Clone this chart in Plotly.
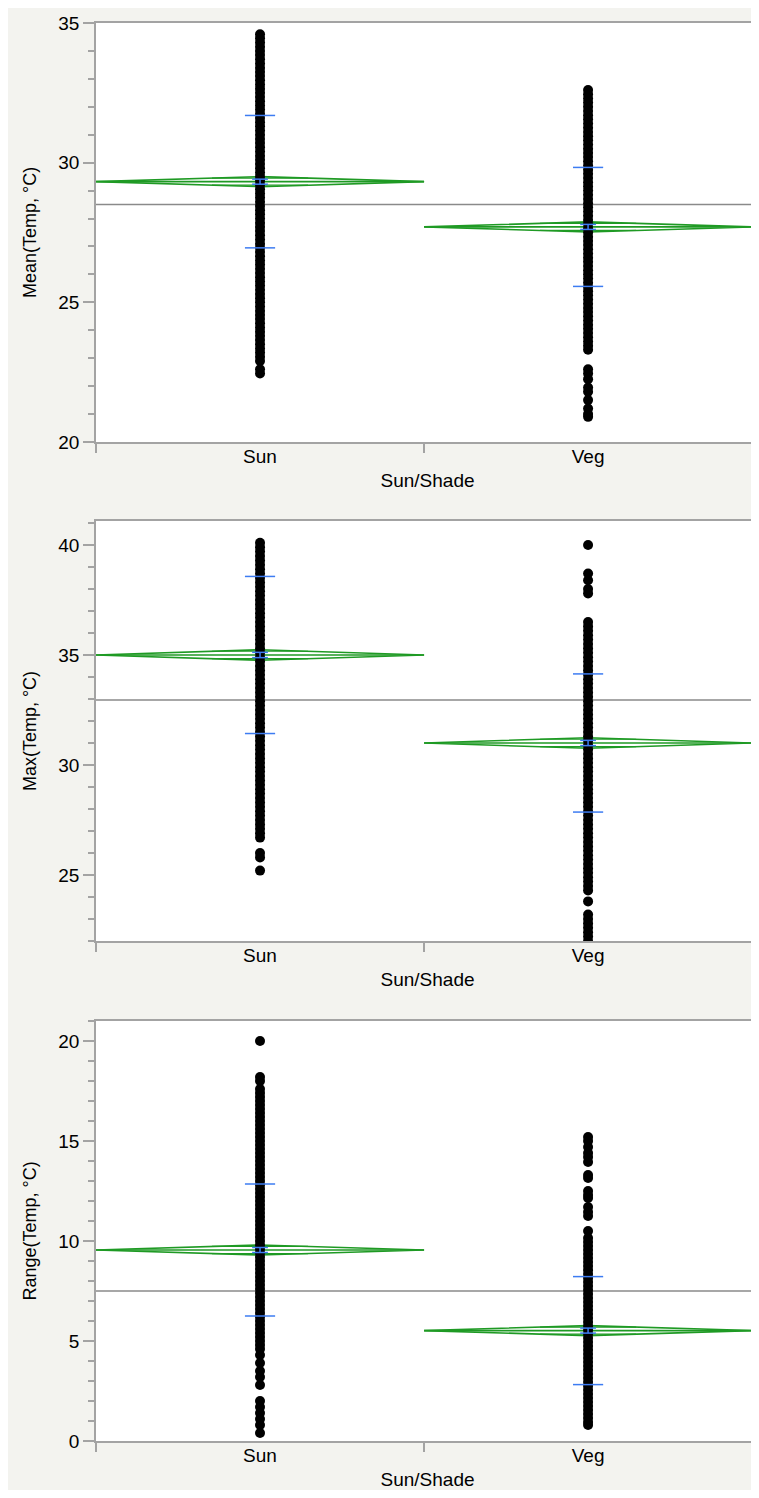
import plotly.graph_objects as go
import math

categories = ["Sun", "Veg"]
cat_pos = [0.5, 1.5]

# ---- Panel 1: Mean(Temp) ----
sun_mean_pts = [34.6, 34.45, 34.3, 34.15, 34.0, 33.85, 33.7, 33.55, 33.4, 33.25, 33.1, 32.95, 32.8,
                32.65, 32.5, 32.35, 32.2, 32.05, 31.9, 31.75, 31.6, 31.45, 31.3, 31.15, 31.0, 30.85,
                30.7, 30.55, 30.4, 30.25, 30.1, 29.95, 29.8, 29.65, 29.5, 29.35, 29.2, 29.05, 28.9,
                28.75, 28.6, 28.45, 28.3, 28.15, 28.0, 27.85, 27.7, 27.55, 27.4, 27.25, 27.1, 26.95,
                26.8, 26.65, 26.5, 26.35, 26.2, 26.05, 25.9, 25.75, 25.6, 25.45, 25.3, 25.15, 25.0,
                24.85, 24.7, 24.55, 24.4, 24.25, 24.1, 23.95, 23.8, 23.65, 23.5, 23.35, 23.2, 23.05,
                22.9, 22.6, 22.45]
veg_mean_pts = [32.6, 32.45, 32.3, 32.15, 32.0, 31.85, 31.7, 31.55, 31.4, 31.25, 31.1, 30.95, 30.8,
                30.65, 30.5, 30.35, 30.2, 30.05, 29.9, 29.75, 29.6, 29.45, 29.3, 29.15, 29.0, 28.85,
                28.7, 28.55, 28.4, 28.25, 28.1, 27.95, 27.8, 27.65, 27.5, 27.35, 27.2, 27.05, 26.9,
                26.75, 26.6, 26.45, 26.3, 26.15, 26.0, 25.85, 25.7, 25.55, 25.4, 25.25, 25.1, 24.95,
                24.8, 24.65, 24.5, 24.35, 24.2, 24.05, 23.9, 23.75, 23.6, 23.45, 23.3, 22.6, 22.45,
                22.25, 21.95, 21.8, 21.5, 21.2, 21.0, 20.9]
mean_group_means = [29.32, 27.70]
mean_group_sd = [2.37, 2.13]
mean_group_ci = [0.18, 0.18]
mean_grand = 28.5

# ---- Panel 2: Max(Temp) ----
sun_max_pts = [40.1, 39.9, 39.7, 39.5, 39.3, 39.1, 38.9, 38.7, 38.5, 38.3, 38.1, 37.9, 37.7, 37.5,
               37.3, 37.1, 36.9, 36.7, 36.5, 36.3, 36.1, 35.9, 35.7, 35.5, 35.3, 35.1, 34.9, 34.7,
               34.5, 34.3, 34.1, 33.9, 33.7, 33.5, 33.3, 33.1, 32.9, 32.7, 32.5, 32.3, 32.1, 31.9,
               31.7, 31.5, 31.3, 31.1, 30.9, 30.7, 30.5, 30.3, 30.1, 29.9, 29.7, 29.5, 29.3, 29.1,
               28.9, 28.7, 28.5, 28.3, 28.1, 27.9, 27.7, 27.5, 27.3, 27.1, 26.9, 26.7, 26.0, 25.8,
               25.2]
veg_max_pts = [40.0, 38.7, 38.4, 38.0, 37.8, 36.5, 36.3, 36.1, 35.9, 35.7, 35.5, 35.3, 35.1, 34.9,
               34.7, 34.5, 34.3, 34.1, 33.9, 33.7, 33.5, 33.3, 33.1, 32.9, 32.7, 32.5, 32.3, 32.1,
               31.9, 31.7, 31.5, 31.3, 31.1, 30.9, 30.7, 30.5, 30.3, 30.1, 29.9, 29.7, 29.5, 29.3,
               29.1, 28.9, 28.7, 28.5, 28.3, 28.1, 27.9, 27.7, 27.5, 27.3, 27.1, 26.9, 26.7, 26.5,
               26.3, 26.1, 25.9, 25.7, 25.5, 25.3, 25.1, 24.9, 24.7, 24.5, 24.3, 23.8, 23.2, 23.0,
               22.8, 22.6, 22.4, 22.2, 22.0]
max_group_means = [35.0, 31.0]
max_group_sd = [3.57, 3.14]
max_group_ci = [0.24, 0.24]
max_grand = 32.95

# ---- Panel 3: Range(Temp) ----
sun_range_pts = [20.0, 18.2, 18.0, 17.6, 17.4, 17.2, 17.0, 16.8, 16.6, 16.4, 16.2, 16.0, 15.8, 15.6,
                 15.4, 15.2, 15.0, 14.8, 14.6, 14.4, 14.2, 14.0, 13.8, 13.6, 13.4, 13.2, 13.0, 12.8,
                 12.6, 12.4, 12.2, 12.0, 11.8, 11.6, 11.4, 11.2, 11.0, 10.8, 10.6, 10.4, 10.2, 10.0,
                 9.8, 9.6, 9.4, 9.2, 9.0, 8.8, 8.6, 8.4, 8.2, 8.0, 7.8, 7.6, 7.4, 7.2, 7.0, 6.8, 6.6,
                 6.4, 6.2, 6.0, 5.8, 5.6, 5.4, 5.2, 5.0, 4.8, 4.6, 4.3, 3.9, 3.5, 3.2, 2.8, 2.0, 1.7,
                 1.4, 1.1, 0.8, 0.4]
veg_range_pts = [15.2, 15.0, 14.7, 14.4, 14.2, 13.95, 13.3, 13.15, 12.5, 12.3, 12.15, 11.7, 11.45,
                 11.25, 10.5, 10.15, 9.95, 9.75, 9.55, 9.35, 9.15, 8.95, 8.75, 8.55, 8.35, 8.15, 7.95,
                 7.75, 7.55, 7.35, 7.15, 6.95, 6.75, 6.55, 6.35, 6.15, 5.95, 5.75, 5.55, 5.35, 5.15,
                 4.95, 4.75, 4.55, 4.35, 4.15, 3.95, 3.75, 3.55, 3.35, 3.15, 2.95, 2.75, 2.55, 2.35,
                 2.15, 1.95, 1.75, 1.55, 1.35, 1.15, 0.95, 0.8]
range_group_means = [9.55, 5.52]
range_group_sd = [3.30, 2.70]
range_group_ci = [0.25, 0.25]
range_grand = 7.5

y_titles = ["Mean(Temp, °C)", "Max(Temp, °C)", "Range(Temp, °C)"]
y_ranges = [[20, 35], [22, 41.09], [0, 21]]

panels = [
    ([sun_mean_pts, veg_mean_pts], mean_group_means, mean_group_sd, mean_group_ci, mean_grand),
    ([sun_max_pts, veg_max_pts], max_group_means, max_group_sd, max_group_ci, max_grand),
    ([sun_range_pts, veg_range_pts], range_group_means, range_group_sd, range_group_ci, range_grand),
]

# layout geometry: the figure div sits at page (8, 8)
OFF = 8
W, H = 751, 1482
ML, MR, MT = 96 - OFF, 0, 23 - OFF
MB = H - (1441 - OFF)
plot_tops = [23, 521, 1021]     # page pixels
plot_bots = [442, 941, 1441]
ph = H - MT - MB


def ypaper(py):
    return (1441 - py) / ph


GREEN = "#1f9a24"
BLUE = "#3d7cf2"
GREY = "#a3a3a3"
X_MAX = 2.021

fig = go.Figure()

for i, (pts, means, sds, cis, grand) in enumerate(panels):
    n = i + 1
    xa = "x" if n == 1 else f"x{n}"
    ya = "y" if n == 1 else f"y{n}"
    fig.add_trace(go.Scatter(x=[0, X_MAX], y=[grand, grand], mode="lines",
                             line=dict(color="#8a8a8a", width=1.5), xaxis=xa, yaxis=ya,
                             hoverinfo="skip", showlegend=False))
    for g in range(2):
        c = cat_pos[g]
        m, s, ci = means[g], sds[g], cis[g]
        fig.add_trace(go.Scatter(x=[c - 0.5, c, c + 0.5, c, c - 0.5],
                                 y=[m, m + ci, m, m - ci, m], mode="lines",
                                 line=dict(color=GREEN, width=1.6), xaxis=xa, yaxis=ya,
                                 hoverinfo="skip", showlegend=False))
        fig.add_trace(go.Scatter(x=[c - 0.5, c + 0.5], y=[m, m], mode="lines",
                                 line=dict(color=GREEN, width=1.6), xaxis=xa, yaxis=ya,
                                 hoverinfo="skip", showlegend=False))
        ov = ci / math.sqrt(2)
        hw = 0.5 * (1 - 1 / math.sqrt(2))
        fig.add_trace(go.Scatter(x=[c - hw, c + hw, None, c - hw, c + hw],
                                 y=[m + ov, m + ov, None, m - ov, m - ov], mode="lines",
                                 line=dict(color=GREEN, width=1.2), xaxis=xa, yaxis=ya,
                                 hoverinfo="skip", showlegend=False))
        fig.add_trace(go.Scatter(x=[c] * len(pts[g]), y=pts[g], mode="markers",
                                 marker=dict(color="black", size=10, line=dict(width=0)),
                                 xaxis=xa, yaxis=ya, name=categories[g], showlegend=False))
        sw = 0.046
        fig.add_trace(go.Scatter(x=[c - sw, c + sw, None, c - sw, c + sw],
                                 y=[m + s, m + s, None, m - s, m - s], mode="lines",
                                 line=dict(color=BLUE, width=1.5), xaxis=xa, yaxis=ya,
                                 hoverinfo="skip", showlegend=False))
        se = ci / 2
        ew = 0.024
        fig.add_trace(go.Scatter(x=[c - ew, c + ew, None, c - ew, c + ew, None, c, c],
                                 y=[m + se, m + se, None, m - se, m - se, None, m - se, m + se],
                                 mode="lines", line=dict(color=BLUE, width=1.5), xaxis=xa, yaxis=ya,
                                 hoverinfo="skip", showlegend=False))

FONT = "Liberation Sans, Arial, sans-serif"
layout = dict(
    width=W, height=H,
    margin=dict(l=ML, r=MR, t=MT, b=MB, pad=0),
    paper_bgcolor="#f3f3ef", plot_bgcolor="white",
    font=dict(family=FONT, color="black", size=19),
    showlegend=False,
)

for i in range(3):
    n = i + 1
    sfx = "" if n == 1 else str(n)
    dom = [ypaper(plot_bots[i]), ypaper(plot_tops[i])]
    layout["xaxis" + sfx] = dict(
        domain=[0, 1], anchor="y" + sfx, range=[0, X_MAX],
        tickmode="array", tickvals=cat_pos, ticktext=categories,
        ticks="", tickfont=dict(size=19), ticklabelstandoff=-4,
        minor=dict(tickmode="array", tickvals=[0, 1], ticks="outside", ticklen=9,
                   tickcolor=GREY, tickwidth=1.5, showgrid=False),
        showline=True, linecolor=GREY, linewidth=1.5, mirror=True,
        showgrid=False, zeroline=False, fixedrange=True,
        title=dict(text="Sun/Shade", font=dict(size=19), standoff=8),
    )
    layout["yaxis" + sfx] = dict(
        domain=dom, anchor="x" + sfx, range=y_ranges[i],
        dtick=5, ticks="outside", ticklen=11, tickcolor=GREY, tickwidth=1.5,
        tickfont=dict(size=19),
        minor=dict(dtick=1, ticks="outside", ticklen=6, tickcolor=GREY, tickwidth=1.5,
                   showgrid=False),
        showline=True, linecolor=GREY, linewidth=1.5,
        showgrid=False, zeroline=False, fixedrange=True,
        title=dict(text=y_titles[i], font=dict(size=18), standoff=17),
    )

fig.update_layout(**layout)
fig.write_html("out.html", default_width=f"{W}px", default_height=f"{H}px")
